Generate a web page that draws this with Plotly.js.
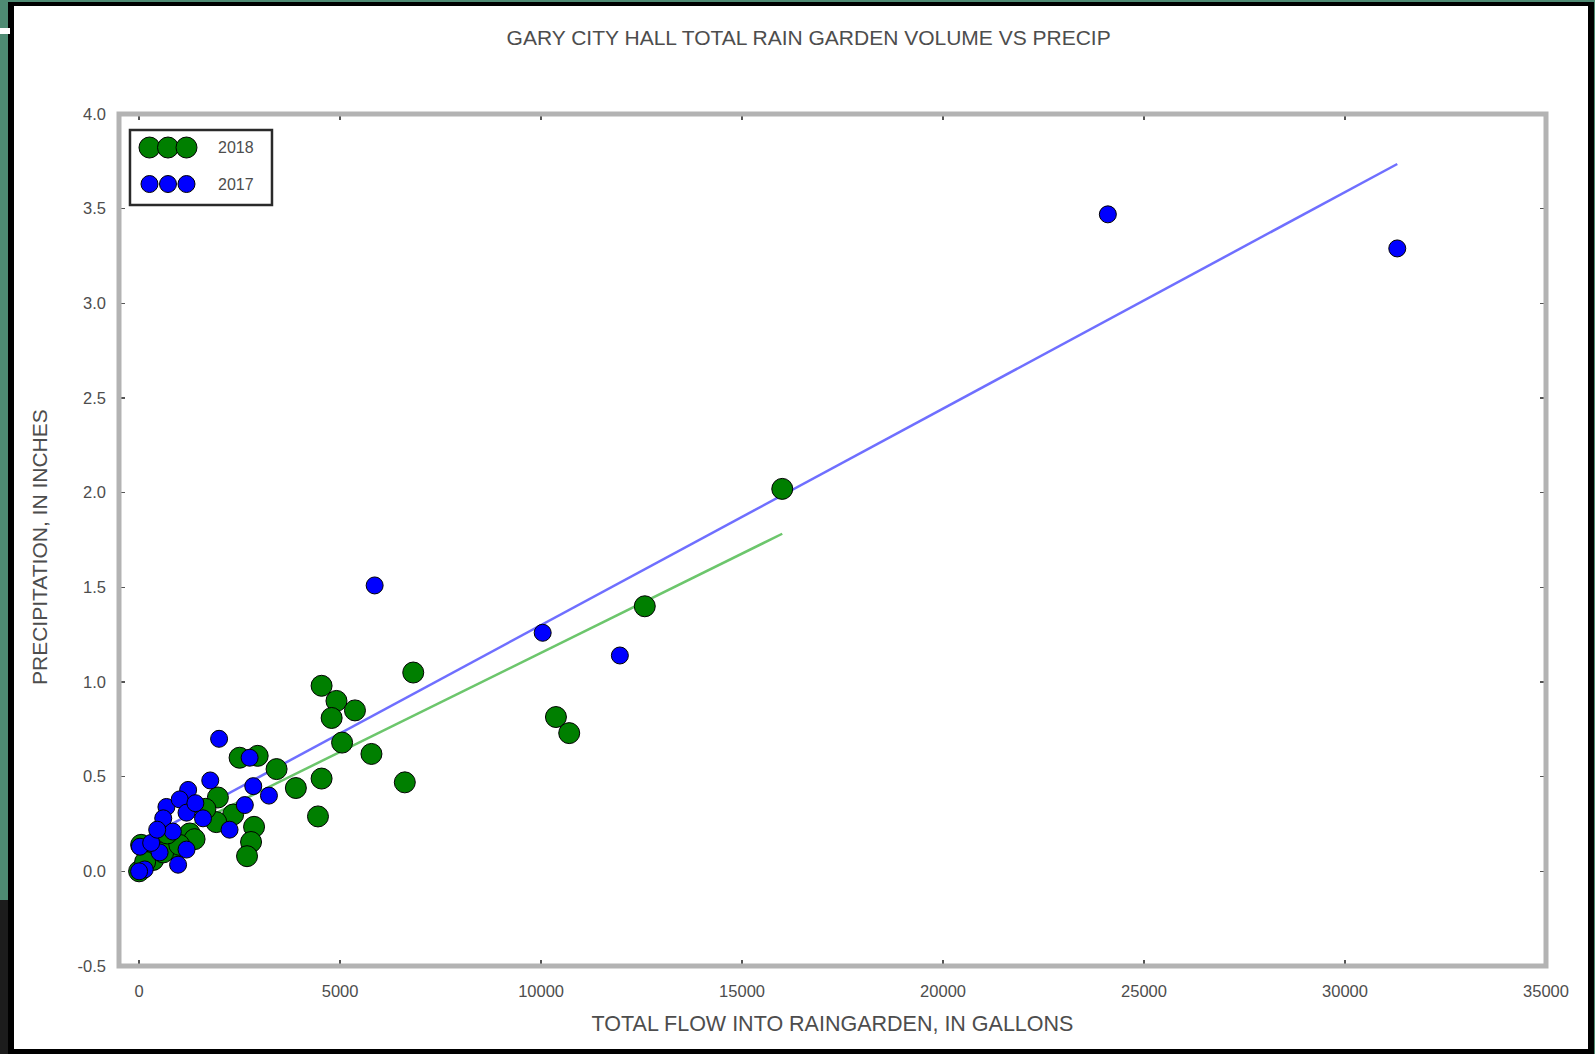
<!DOCTYPE html>
<html>
<head>
<meta charset="utf-8">
<script src="https://cdn.plot.ly/plotly-3.0.1.min.js"></script>
<style>
  html, body { margin: 0; padding: 0; }
  body { width: 1595px; height: 1054px; background: #4e8b73; position: relative; overflow: hidden; }
  #frame { position: absolute; left: 8px; top: 2px; width: 1574px; height: 1043px;
           background: #ffffff; border-style: solid; border-color: #000;
           border-width: 4px 6px 5px 6px; }
  #notch { position: absolute; left: 0; top: 28px; width: 10px; height: 6px; background: #fff; }
  #edge { position: absolute; left: 0; top: 900px; width: 8px; height: 154px; background: #1c1c1c; }
  #chart { position: absolute; left: 0; top: 0; width: 1595px; height: 1054px; }
</style>
</head>
<body>
<div id="frame"></div>
<div id="notch"></div>
<div id="edge"></div>
<div id="chart"></div>
<script>
// Total flow into the rain garden (gallons) and storm precipitation (inches)
const flow2018 = [16000, 12580, 10370, 10700, 6820, 4540, 4910, 5370, 4790, 5050,
                  5780, 4540, 6610, 3900, 4450, 3420, 2500, 2950, 2860, 2785,
                  2685, 1960, 2340, 1920, 1260, 1380, 890, 50, 0, 350,
                  600, 150, 1000, 1650, 700];
const precip2018 = [2.02, 1.40, 0.815, 0.73, 1.05, 0.98, 0.90, 0.85, 0.81, 0.68,
                    0.62, 0.49, 0.47, 0.44, 0.29, 0.54, 0.60, 0.61, 0.235, 0.155,
                    0.08, 0.39, 0.30, 0.26, 0.20, 0.17, 0.115, 0.14, 0.0, 0.06,
                    0.10, 0.05, 0.14, 0.33, 0.20];

const flow2017 = [31300, 24100, 11960, 10040, 5860, 1990, 2750, 3230, 2840, 1770,
                  1220, 2630, 2250, 680, 1010, 600, 1180, 840, 1180, 970,
                  510, 140, 20, 300, 1590, 0, 1400, 450];
const precip2017 = [3.29, 3.47, 1.14, 1.26, 1.51, 0.70, 0.60, 0.40, 0.45, 0.48,
                    0.43, 0.35, 0.22, 0.34, 0.38, 0.28, 0.31, 0.21, 0.115, 0.035,
                    0.10, 0.01, 0.13, 0.15, 0.28, 0.0, 0.36, 0.22];

// Least-squares trend lines, end points
const fit2018X = [0, 16000];
const fit2018Y = [0.107, 1.783];
const fit2017X = [0, 31300];
const fit2017Y = [0.157, 3.736];

const seriesNames = ['2018', '2017'];

const xTickVals = [0, 5000, 10000, 15000, 20000, 25000, 30000, 35000];
const xTickText = ['0', '5000', '10000', '15000', '20000', '25000', '30000', '35000'];
const yTickVals = [-0.5, 0.0, 0.5, 1.0, 1.5, 2.0, 2.5, 3.0, 3.5, 4.0];
const yTickText = ['-0.5', '0.0', '0.5', '1.0', '1.5', '2.0', '2.5', '3.0', '3.5', '4.0'];

const GREEN = '#007f00';
const BLUE = '#0000ff';
const TEXT = '#4d4d4d';
const FONT = 'Liberation Sans, Arial, sans-serif';

const traces = [
  { x: fit2018X, y: fit2018Y, mode: 'lines', type: 'scatter',
    line: { color: '#6cc66c', width: 2.5 }, hoverinfo: 'skip', showlegend: false },
  { x: fit2017X, y: fit2017Y, mode: 'lines', type: 'scatter',
    line: { color: '#6f6fff', width: 2.5 }, hoverinfo: 'skip', showlegend: false },
  { x: flow2018, y: precip2018, name: seriesNames[0], mode: 'markers', type: 'scatter',
    marker: { color: GREEN, size: 21, line: { color: '#000', width: 1 } } },
  { x: flow2017, y: precip2017, name: seriesNames[1], mode: 'markers', type: 'scatter',
    marker: { color: BLUE, size: 17, line: { color: '#000', width: 1 } } }
];

const axisCommon = {
  showgrid: false, zeroline: false, showline: false, mirror: 'ticks',
  ticks: 'inside', ticklen: 6, tickwidth: 1.5, tickcolor: '#555',
  tickfont: { family: FONT, size: 16.5, color: TEXT }
};

// Legend: framed box with three overlapping markers per entry
const legLeft = 0.0077, legTop = 0.9812;
function legendDot(dx, dy, d, color) {
  return { type: 'circle', xref: 'paper', yref: 'paper', xsizemode: 'pixel', ysizemode: 'pixel',
           xanchor: legLeft, yanchor: legTop,
           x0: dx - d / 2, x1: dx + d / 2, y0: dy - d / 2, y1: dy + d / 2,
           fillcolor: color, line: { color: '#000', width: 1 } };
}
const shapes = [
  // axes frame, centred on the plot edge
  { type: 'rect', xref: 'paper', yref: 'paper', x0: 0, x1: 1, y0: 0, y1: 1,
    line: { color: '#b3b3b3', width: 5 }, layer: 'above' },
  { type: 'rect', xref: 'paper', yref: 'paper', xsizemode: 'pixel', ysizemode: 'pixel',
    xanchor: legLeft, yanchor: legTop, x0: 0, x1: 142, y0: -75, y1: 0,
    fillcolor: '#fff', line: { color: '#2a2a2a', width: 2.5 } },
  legendDot(19.5, -17.5, 21, GREEN), legendDot(38, -17.5, 21, GREEN), legendDot(56.5, -17.5, 21, GREEN),
  legendDot(19.5, -54, 17, BLUE), legendDot(38, -54, 17, BLUE), legendDot(56.5, -54, 17, BLUE)
];
const annotations = [
  { text: seriesNames[0], xref: 'paper', yref: 'paper', x: legLeft, y: legTop,
    xshift: 86, yshift: -17.5, xanchor: 'left', yanchor: 'middle', showarrow: false,
    font: { family: FONT, size: 16, color: TEXT } },
  { text: seriesNames[1], xref: 'paper', yref: 'paper', x: legLeft, y: legTop,
    xshift: 86, yshift: -54, xanchor: 'left', yanchor: 'middle', showarrow: false,
    font: { family: FONT, size: 16, color: TEXT } },
  // y-axis title
  { text: 'PRECIPITATION, IN INCHES', xref: 'paper', yref: 'paper', x: 0, y: 0.5,
    xshift: -80, yshift: -7, textangle: -90, xanchor: 'center', yanchor: 'middle',
    showarrow: false, font: { family: FONT, size: 21, color: TEXT } }
];

const layout = {
  width: 1595, height: 1054,
  margin: { l: 119, r: 49, t: 114, b: 88, pad: 0 },
  paper_bgcolor: 'rgba(0,0,0,0)', plot_bgcolor: '#ffffff',
  font: { family: FONT, color: TEXT },
  showlegend: false,
  title: { text: 'GARY CITY HALL TOTAL RAIN GARDEN VOLUME VS PRECIP',
           font: { family: FONT, size: 21, color: TEXT },
           xref: 'container', yref: 'container', x: 0.507, y: 0.964,
           xanchor: 'center', yanchor: 'middle' },
  xaxis: Object.assign({}, axisCommon, {
    range: [-500, 35000], tickmode: 'array', tickvals: xTickVals, ticktext: xTickText,
    ticklabelstandoff: 13,
    title: { text: 'TOTAL FLOW INTO RAINGARDEN, IN GALLONS', standoff: 17,
             font: { family: FONT, size: 21.5, color: TEXT } }
  }),
  yaxis: Object.assign({}, axisCommon, {
    range: [-0.5, 4.0], tickmode: 'array', tickvals: yTickVals, ticktext: yTickText,
    ticklabelstandoff: 12
  }),
  shapes: shapes,
  annotations: annotations
};

Plotly.newPlot('chart', traces, layout, { displayModeBar: false, staticPlot: true });
</script>
</body>
</html>
